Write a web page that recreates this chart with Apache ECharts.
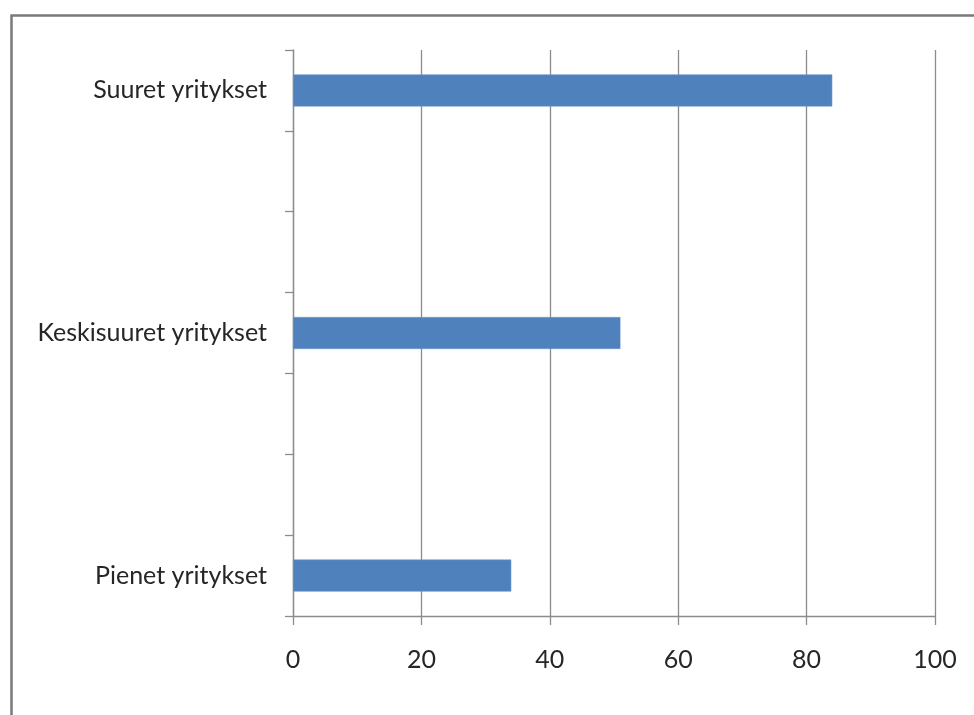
<!DOCTYPE html>
<html>
<head>
<meta charset="utf-8">
<script src="https://cdn.jsdelivr.net/npm/echarts@6/dist/echarts.min.js"></script>
<style>
  html, body { margin: 0; padding: 0; background: #ffffff; }
  #chart { width: 974px; height: 715px; }
</style>
</head>
<body>
<div id="chart"></div>
<script>
// Company size groups, bottom to top; blank slots keep the spacing between groups
const categories = ['Pienet yritykset', '', '', 'Keskisuuret yritykset', '', '', 'Suuret yritykset'];
const values = [34, null, null, 51, null, null, 84];
const xTicks = [0, 20, 40, 60, 80, 100];

const FONT = 'Lato, "Open Sans", sans-serif';
const AXIS_GRAY = '#8c8c8c';

const chart = echarts.init(document.getElementById('chart'), null, { renderer: 'canvas' });

chart.setOption({
  animation: false,
  backgroundColor: '#ffffff',
  graphic: [{
    type: 'rect',
    left: 9,
    top: 13,
    shape: { x: 0, y: 0, width: 1000, height: 760 },
    style: { fill: 'none', stroke: '#7a7a7a', lineWidth: 2.5 },
    silent: true,
    z: -10
  }],
  grid: { left: 293, right: 39, top: 50, bottom: 99, containLabel: false },
  xAxis: {
    type: 'value',
    min: xTicks[0],
    max: xTicks[xTicks.length - 1],
    interval: xTicks[1] - xTicks[0],
    axisLine: { show: true, lineStyle: { color: AXIS_GRAY, width: 1.3 } },
    axisTick: { show: true, length: 9, lineStyle: { color: AXIS_GRAY, width: 1.3 } },
    splitLine: { show: true, lineStyle: { color: AXIS_GRAY, width: 1.3 } },
    axisLabel: { color: '#262626', fontSize: 25, fontFamily: FONT, margin: 31 }
  },
  yAxis: {
    type: 'category',
    data: categories,
    boundaryGap: true,
    axisLine: { show: true, lineStyle: { color: AXIS_GRAY, width: 1.3 } },
    axisTick: { show: true, length: 8, inside: false, lineStyle: { color: AXIS_GRAY, width: 1.3 } },
    splitLine: { show: false },
    axisLabel: { color: '#262626', fontSize: 25, fontFamily: FONT, margin: 26, interval: 0 }
  },
  series: [{
    type: 'bar',
    data: values,
    barWidth: 32,
    itemStyle: { color: '#4f81bd', borderColor: '#6b96cc', borderWidth: 0.6 }
  }]
});
</script>
</body>
</html>
